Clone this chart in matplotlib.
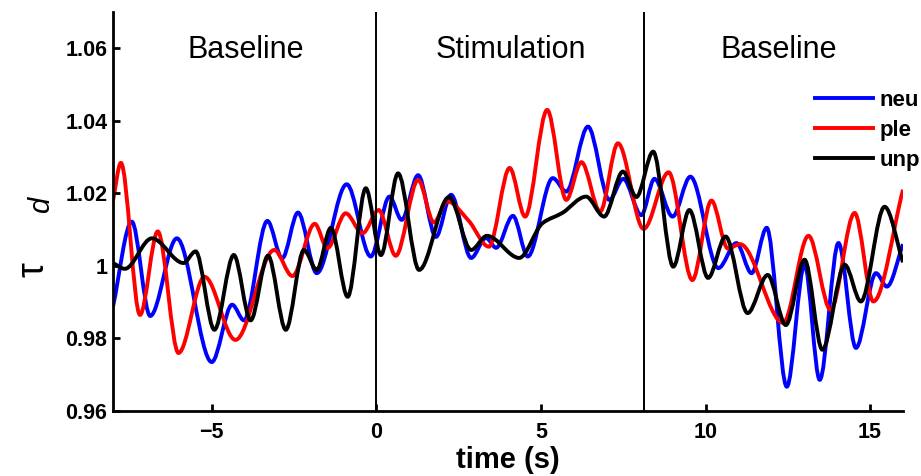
import numpy as np
import matplotlib
matplotlib.use('Agg')
import matplotlib.pyplot as plt
from matplotlib.path import Path
from matplotlib.patches import PathPatch
from matplotlib.lines import Line2D

plt.rcParams['font.family'] = ['Liberation Sans', 'DejaVu Sans']

# extrema (and a few shoulder points): time (s), tau_d
neu_t = [-8.0, -7.43, -6.87, -6.06, -5.0, -4.38, -4.02, -3.31, -2.86, -2.38, -1.81, -0.9,
         -0.17, 0.4, 0.77, 1.27, 1.81, 2.27, 2.88, 3.33, 3.64, 4.15, 4.6, 5.36, 5.77, 6.43,
         7.08, 7.5, 8.05, 8.45, 9.0, 9.54, 10.39, 10.94, 11.4, 11.86, 12.47, 13.01, 13.47,
         14.04, 14.57, 15.18, 15.51, 16.0]
neu_v = [0.9888, 1.0122, 0.9862, 1.0076, 0.9735, 0.9893, 0.985, 1.0124, 1.0021, 1.0147, 0.998,
         1.0225, 1.0026, 1.0191, 1.0127, 1.025, 1.008, 1.0196, 1.0022, 1.0077, 1.005, 1.0138,
         1.0026, 1.0242, 1.0205, 1.0384, 1.0182, 1.024, 1.014, 1.024, 1.0136, 1.0246, 0.9994,
         1.0063, 0.998, 1.0105, 0.9667, 1.0003, 0.9686, 1.0063, 0.9774, 0.998, 0.9943, 1.006]

ple_t = [-8.0, -7.76, -7.18, -6.64, -6.01, -5.22, -4.28, -3.1, -2.55, -1.87, -1.49, -0.93,
         -0.42, 0.07, 0.59, 1.27, 1.75, 2.15, 2.8, 3.42, 4.05, 4.52, 5.19, 5.77, 6.23, 6.8,
         7.34, 8.12, 8.88, 9.6, 10.18, 10.68, 11.05, 12.36, 13.13, 13.8, 14.53, 15.1, 16.0]
ple_v = [1.018, 1.0284, 0.9865, 1.0095, 0.976, 0.997, 0.9796, 1.0044, 0.9972, 1.0116, 1.0049,
         1.0145, 1.009, 1.0154, 1.0028, 1.0237, 1.012, 1.0178, 1.0125, 1.0053, 1.027, 1.0136,
         1.043, 1.0182, 1.0286, 1.015, 1.0338, 1.0102, 1.0258, 0.9961, 1.018, 1.0048, 1.006,
         0.9843, 1.0083, 0.9879, 1.0146, 0.9902, 1.021]

unp_t = [-8.0, -7.64, -6.82, -5.86, -5.49, -4.92, -4.33, -3.82, -3.29, -2.75, -2.2, -1.81,
         -1.38, -0.87, -0.32, 0.14, 0.66, 1.3, 2.21, 2.88, 3.36, 4.34, 5.05, 5.65, 6.37, 6.92,
         7.49, 7.9, 8.41, 9.02, 9.51, 10.08, 10.61, 11.28, 11.89, 12.44, 13.01, 13.55, 14.23,
         14.72, 15.44, 16.0]
unp_v = [1.0008, 0.9992, 1.0076, 1.0008, 1.004, 0.9824, 1.003, 0.985, 1.0028, 0.9824, 1.0044,
         0.9989, 1.0105, 0.9915, 1.0214, 1.003, 1.0255, 0.9989, 1.019, 1.0044, 1.0083, 1.0022,
         1.0118, 1.0146, 1.0191, 1.0136, 1.026, 1.019, 1.0315, 0.9998, 1.0154, 0.9967, 1.0081,
         0.987, 0.9975, 0.9837, 1.0017, 0.9769, 1.0003, 0.9902, 1.0163, 1.001]

series = [('neu', neu_t, neu_v, '#0000ff'),
          ('ple', ple_t, ple_v, '#ff0000'),
          ('unp', unp_t, unp_v, '#000000')]

phase_bounds = [0, 8.14]
phase_names = ['Baseline', 'Stimulation', 'Baseline']
phase_centers = [-3.97, 4.1, 12.24]

yticks = [0.96, 0.98, 1.0, 1.02, 1.04, 1.06]
ytick_labels = ['0.96', '0.98', '1', '1.02', '1.04', '1.06']
xticks = [-5, 0, 5, 10, 15]
xtick_labels = ['\u22125', '0', '5', '10', '15']


def smooth_path(t, v):
    # cubic bezier through the read points, flat at peaks/troughs
    t = np.asarray(t, float)
    v = np.asarray(v, float)
    sec = np.diff(v) / np.diff(t)
    m = np.zeros(len(t))
    m[0], m[-1] = sec[0], sec[-1]
    for i in range(1, len(t) - 1):
        if sec[i - 1] * sec[i] > 0:
            m[i] = 2 / (1 / sec[i - 1] + 1 / sec[i])
    verts = [(t[0], v[0])]
    codes = [Path.MOVETO]
    for i in range(len(t) - 1):
        h = t[i + 1] - t[i]
        verts += [(t[i] + h / 3, v[i] + m[i] * h / 3),
                  (t[i + 1] - h / 3, v[i + 1] - m[i + 1] * h / 3),
                  (t[i + 1], v[i + 1])]
        codes += [Path.CURVE4] * 3
    return Path(verts, codes)


fig = plt.figure(figsize=(9.21, 4.76), dpi=100)
ax = fig.add_axes([113 / 921, 1 - 411 / 476, 790 / 921, 399 / 476])

handles = []
for name, t, v, col in series:
    ax.add_patch(PathPatch(smooth_path(t, v), facecolor='none', edgecolor=col, lw=2.8))
    handles.append(Line2D([], [], color=col, lw=2.8, label=name))

for b in phase_bounds:
    ax.axvline(b, color='black', lw=1.4)

for name, c in zip(phase_names, phase_centers):
    ax.text(c, 1.0595, name, ha='center', va='center', fontsize=22)

ax.set_xlim(-8, 16)
ax.set_ylim(0.96, 1.07)
ax.set_xticks(xticks)
ax.set_xticklabels(xtick_labels)
ax.set_yticks(yticks)
ax.set_yticklabels(ytick_labels)
for s in ['top', 'right']:
    ax.spines[s].set_visible(False)
for s in ['left', 'bottom']:
    ax.spines[s].set_linewidth(2)
ax.tick_params(direction='in', length=5, width=2, labelsize=15.5)
ax.tick_params(axis='x', pad=8)
ax.tick_params(axis='y', pad=4)
for lab in ax.get_xticklabels() + ax.get_yticklabels():
    lab.set_fontweight('bold')

ax.set_xlabel('time (s)', fontsize=21, fontweight='bold', labelpad=2)
fig.text(33 / 921, 1 - 270 / 476, '\u03c4', rotation=90, ha='center', va='center', fontsize=27)
fig.text(41 / 921, 1 - 205 / 476, 'd', rotation=90, ha='center', va='center',
         fontsize=21, style='italic')

leg = ax.legend(handles=handles, loc='upper left', bbox_to_anchor=(815 / 921, 1 - 90 / 476),
                bbox_transform=fig.transFigure, frameon=False, borderpad=0, borderaxespad=0,
                handlelength=2.6, handletextpad=0.3, labelspacing=0.4,
                prop={'weight': 'bold', 'size': 16})

fig.savefig('out.png', dpi=100)
